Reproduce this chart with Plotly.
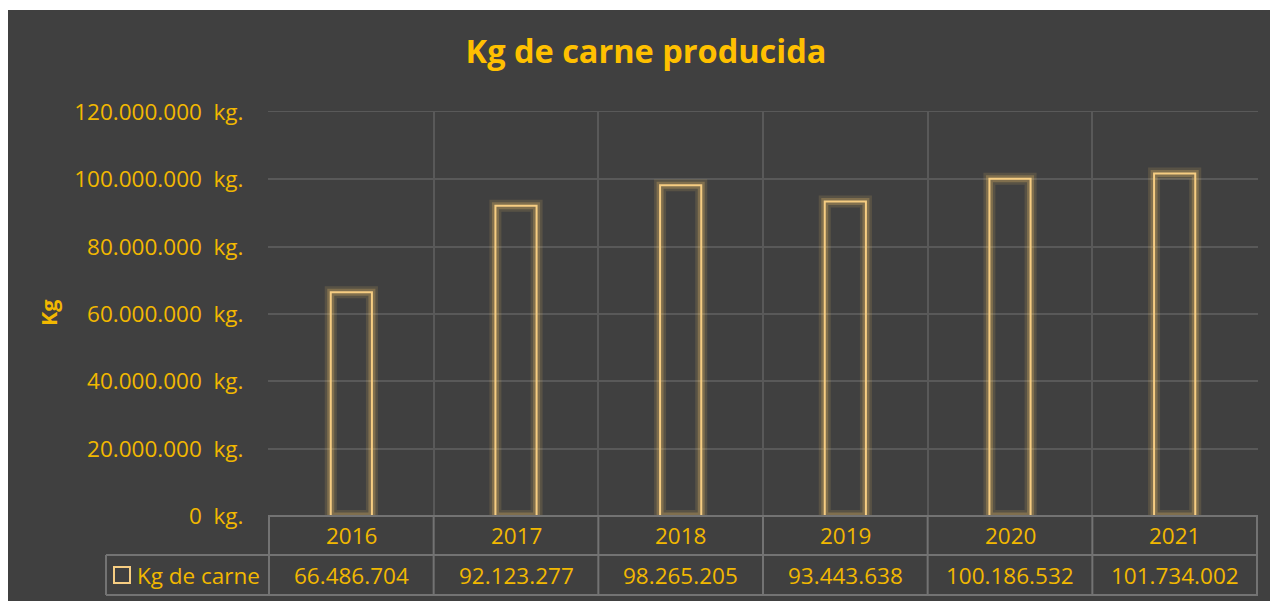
"""
Kg de carne producida - column chart with data table below.
"""
import plotly.graph_objects as go

# Data
YEARS = ["2016", "2017", "2018", "2019", "2020", "2021"]
KG_CARNE = [66486704, 92123277, 98265205, 93443638, 100186532, 101734002]
SERIES_NAME = "Kg de carne"
Y_TICKS = [0, 20000000, 40000000, 60000000, 80000000, 100000000, 120000000]

BG = "#404040"
GRID = "#595959"
TABLE_LINE = "#737373"
GOLD = "#FFC000"
TEXT_GOLD = "#F2B800"
BAR_LINE = "#F6CD82"
FONT = "Open Sans, sans-serif"
FS = 22.5

# the page body adds an 8px margin, so work in screen pixels and shift
OFF = 8
W, H = 1278, 601
# plot area in screen pixels: x 268..1258, y 112..516
PX_L, PX_R, PX_T, PX_B = 268, 1258, 112, 516


def px_x(px):
    return (px - PX_L) / (PX_R - PX_L)


def px_y(py):
    return (PX_B - py) / (PX_B - PX_T)


def fmt(v):
    return f"{v:,}".replace(",", ".")


fig = go.Figure()

# glow layers
for w, a in [(12, 0.13), (7, 0.24)]:
    fig.add_trace(go.Bar(
        x=YEARS, y=KG_CARNE, width=0.25,
        marker=dict(color="rgba(0,0,0,0)", line=dict(color=f"rgba(255,205,110,{a})", width=w)),
        showlegend=False, hoverinfo="skip"
    ))

fig.add_trace(go.Bar(
    x=YEARS, y=KG_CARNE, width=0.25, name=SERIES_NAME,
    marker=dict(color="rgba(0,0,0,0)", line=dict(color=BAR_LINE, width=2)),
    showlegend=False,
    hovertemplate="<b>%{x}</b><br>%{y:,.0f} kg<extra></extra>"
))

shapes = []
# white frame + dark chart background
shapes.append(dict(type="rect", xref="paper", yref="paper", layer="below",
                   x0=px_x(0), x1=px_x(W + 20), y0=px_y(H + 20), y1=px_y(10),
                   fillcolor=BG, line=dict(width=0)))

# data table lines
line = dict(color=TABLE_LINE, width=2)
shapes.append(dict(type="line", xref="paper", yref="paper", x0=0, x1=1, y0=0, y1=0, line=line))
for py in (555, 595):
    shapes.append(dict(type="line", xref="paper", yref="paper",
                       x0=px_x(106), x1=1, y0=px_y(py), y1=px_y(py), line=line))
shapes.append(dict(type="line", xref="paper", yref="paper",
                   x0=px_x(106), x1=px_x(106), y0=px_y(555), y1=px_y(595), line=line))
for i in range(len(YEARS) + 1):
    shapes.append(dict(type="line", xref="x", yref="paper",
                       x0=i - 0.5, x1=i - 0.5, y0=0, y1=px_y(595), line=line))
# legend key
shapes.append(dict(type="rect", xref="paper", yref="paper",
                   x0=px_x(114), x1=px_x(130), y0=px_y(583), y1=px_y(567),
                   fillcolor=BG, line=dict(color=BAR_LINE, width=2)))

annotations = []
for i, (yr, v) in enumerate(zip(YEARS, KG_CARNE)):
    annotations.append(dict(x=i, y=px_y(535), xref="x", yref="paper", text=yr,
                            xanchor="center", yanchor="middle", showarrow=False,
                            font=dict(size=FS, color=TEXT_GOLD)))
    annotations.append(dict(x=i, y=px_y(575), xref="x", yref="paper", text=fmt(v),
                            xanchor="center", yanchor="middle", showarrow=False,
                            font=dict(size=FS, color=TEXT_GOLD)))
annotations.append(dict(x=px_x(135), y=px_y(575), xref="paper", yref="paper",
                        text=SERIES_NAME, xanchor="left", yanchor="middle", showarrow=False,
                        font=dict(size=FS, color=TEXT_GOLD)))
annotations.append(dict(x=px_x(48), y=px_y(313), xref="paper", yref="paper",
                        text="<b>Kg</b>", textangle=-90, xanchor="center", yanchor="middle",
                        showarrow=False, font=dict(size=FS - 1, color=TEXT_GOLD)))

fig.update_layout(
    width=W, height=H,
    margin=dict(l=PX_L - OFF, r=W - (PX_R - OFF), t=PX_T - OFF, b=H - (PX_B - OFF)),
    paper_bgcolor="white", plot_bgcolor=BG,
    font=dict(family=FONT, size=FS, color=TEXT_GOLD),
    separators=",.",
    barmode="overlay",
    title=dict(text="<b>Kg de carne producida</b>", x=(646 - OFF) / W, xanchor="center",
               xref="container", y=1 - (52 - OFF) / H, yanchor="middle",
               font=dict(size=32.5, color=GOLD, family=FONT)),
    xaxis=dict(type="category", tickson="boundaries", showgrid=True, gridcolor=GRID,
               gridwidth=1.5, showticklabels=False, showline=True, linecolor=GRID,
               mirror=True, zeroline=False, fixedrange=True),
    yaxis=dict(range=[0, 120000000], tickvals=Y_TICKS,
               ticktext=[fmt(v) + "\u00a0\u00a0kg." for v in Y_TICKS],
               showgrid=True, gridcolor=GRID, gridwidth=1.5,
               zeroline=False, ticks="outside", ticklen=19, tickcolor=BG,
               tickfont=dict(size=FS, color=TEXT_GOLD), fixedrange=True),
    shapes=shapes,
    annotations=annotations,
    showlegend=False,
)

fig.write_html("out.html")
